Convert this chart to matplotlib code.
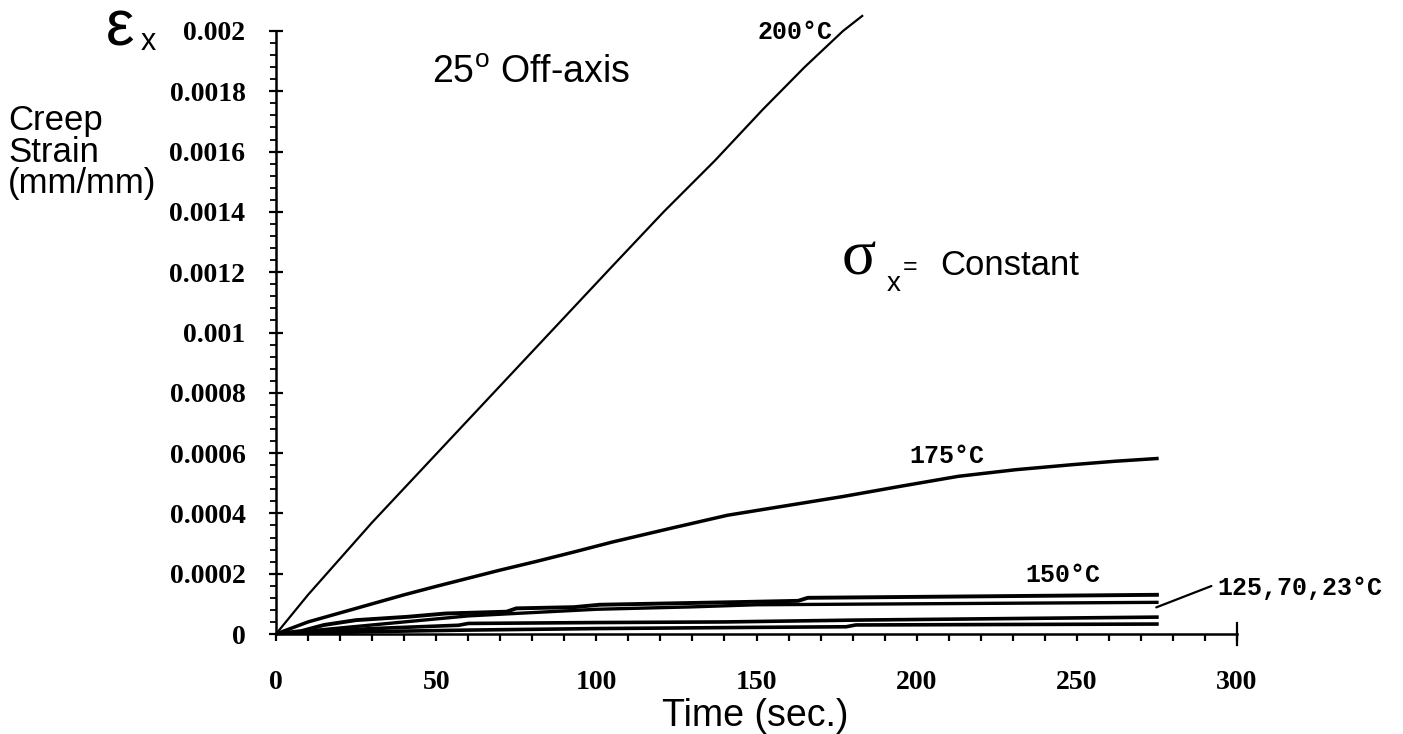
import matplotlib
matplotlib.use('Agg')
import matplotlib.pyplot as plt
import numpy as np

# creep strain vs time, 25 deg off-axis specimens
t_200 = [0, 10, 20, 30, 45, 60, 75, 90, 105, 121, 137, 152, 165, 177, 183]
strain_200 = [0, 0.00013, 0.00025, 0.00037, 0.00054, 0.00071, 0.00088, 0.00105,
              0.00122, 0.0014, 0.00157, 0.00174, 0.00188, 0.002, 0.00205]

t_175 = [0, 5, 10, 20, 30, 40, 50, 60, 70, 81, 93, 105, 123, 141, 159, 177, 195,
         213, 231, 249, 262, 275]
strain_175 = [0, 0.00002, 0.00004, 0.00007, 0.0001, 0.00013, 0.000158, 0.000185,
              0.000212, 0.00024, 0.000272, 0.000305, 0.00035, 0.000394, 0.000425,
              0.000456, 0.00049, 0.000523, 0.000545, 0.000562, 0.000573, 0.000582]

t_150 = [0, 8, 15, 25, 41, 53, 72, 75, 93, 101, 145, 163, 166, 275]
strain_150 = [0, 0.00001, 0.00003, 0.000046, 0.000057, 0.000068, 0.000074, 0.000085,
              0.000089, 0.000097, 0.000106, 0.00011, 0.00012, 0.00013]

t_125 = [0, 20, 40, 60, 100, 130, 150, 275]
strain_125 = [0, 0.00002, 0.00004, 0.00006, 0.000082, 0.00009, 0.000097, 0.000105]

t_70 = [0, 10, 20, 30, 57, 60, 100, 140, 180, 275]
strain_70 = [0, 0.000006, 0.000012, 0.000018, 0.000029, 0.000035, 0.000038, 0.00004,
             0.000046, 0.000056]

t_23 = [0, 15, 30, 60, 100, 150, 178, 181, 275]
strain_23 = [0, 0.000004, 0.000008, 0.000013, 0.000018, 0.000022, 0.000024, 0.00003,
             0.000033]

x_ticks = [0, 50, 100, 150, 200, 250, 300]
x_ticklabels = ['0', '50', '100', '150', '200', '250', '300']
y_ticks = [0, 0.0002, 0.0004, 0.0006, 0.0008, 0.001, 0.0012, 0.0014, 0.0016, 0.0018, 0.002]
y_ticklabels = ['0', '0.0002', '0.0004', '0.0006', '0.0008', '0.001', '0.0012',
                '0.0014', '0.0016', '0.0018', '0.002']

W, H = 1403, 734


def px(x, y):
    # pixel position (from top left) -> figure fraction
    return x / W, 1 - y / H


sans = 'Liberation Sans'
serif = 'Liberation Serif'
mono = 'Liberation Mono'

fig = plt.figure(figsize=(W / 100, H / 100), dpi=100)
ax = fig.add_axes([276 / W, (H - 634) / H, (1237 - 276) / W, 603 / H])

ax.plot(t_200, strain_200, color='black', lw=1.6, clip_on=False)
ax.plot(t_175, strain_175, color='black', lw=2.5)
ax.plot(t_150, strain_150, color='black', lw=2.8)
ax.plot(t_125, strain_125, color='black', lw=2.4)
ax.plot(t_70, strain_70, color='black', lw=2.6)
ax.plot(t_23, strain_23, color='black', lw=2.6)

ax.set_xlim(0, 300)
ax.set_ylim(0, 0.002)
ax.spines['top'].set_visible(False)
ax.spines['right'].set_visible(False)
ax.spines['left'].set_linewidth(1.8)
ax.spines['bottom'].set_linewidth(1.8)

ax.set_xticks(x_ticks)
ax.set_xticklabels(x_ticklabels)
ax.set_xticks(np.arange(0, 301, 10), minor=True)
ax.set_yticks(y_ticks)
ax.set_yticklabels(y_ticklabels)
ax.set_yticks(np.arange(0, 0.00201, 0.00004), minor=True)

ax.tick_params(axis='x', which='both', direction='out', length=5, width=1.6)
ax.tick_params(axis='x', which='major', pad=21)
ax.tick_params(axis='y', which='major', direction='inout', length=10, width=1.6, pad=17)
ax.tick_params(axis='y', which='minor', direction='out', length=4.5, width=1.3)
for lab in ax.get_xticklabels() + ax.get_yticklabels():
    lab.set_fontfamily(serif)
    lab.set_fontweight('bold')
    lab.set_fontsize(20)

# end mark of the time axis
ax.plot([300, 300], [-0.000035, 0.000035], color='black', lw=1.6, clip_on=False)

# axis titles
fig.text(*px(755, 716), 'Time (sec.)', family=sans, fontsize=27, ha='center', va='center')
fig.text(*px(8, 104), 'Creep\nStrain\n(mm/mm)', family=sans, fontsize=25,
         ha='left', va='top', linespacing=0.95)
fig.text(*px(106, 46), '\u03b5', family=sans, fontsize=46, ha='left', va='baseline')
fig.text(*px(141, 50), 'x', family=sans, fontsize=22, ha='left', va='baseline')

# annotations
fig.text(*px(432, 83), r'25$^{\mathregular{o}}$ Off-axis', family=sans, fontsize=27,
         ha='left', va='baseline')
fig.text(*px(842, 274), '\u03c3', family=serif, fontsize=46, ha='left', va='baseline')
fig.text(*px(887, 291), 'x', family=sans, fontsize=20, ha='left', va='baseline')
fig.text(*px(903, 274), '=', family=sans, fontsize=18, ha='left', va='baseline')
fig.text(*px(940, 275), 'Constant', family=sans, fontsize=25, ha='left', va='baseline')

lab_kw = dict(family=mono, fontweight='bold', fontsize=18, va='center')
fig.text(*px(795, 32), '200\u00b0C', ha='center', **lab_kw)
fig.text(*px(947, 456), '175\u00b0C', ha='center', **lab_kw)
fig.text(*px(1063, 575), '150\u00b0C', ha='center', **lab_kw)
fig.text(*px(1217, 588), '125,70,23\u00b0C', ha='left', **lab_kw)
ax.annotate('', xy=(274, 0.000085), xytext=(1214 / W, 1 - 585 / H),
            textcoords='figure fraction',
            arrowprops=dict(arrowstyle='-', color='black', lw=1.6))

fig.savefig('out.png', dpi=100)
